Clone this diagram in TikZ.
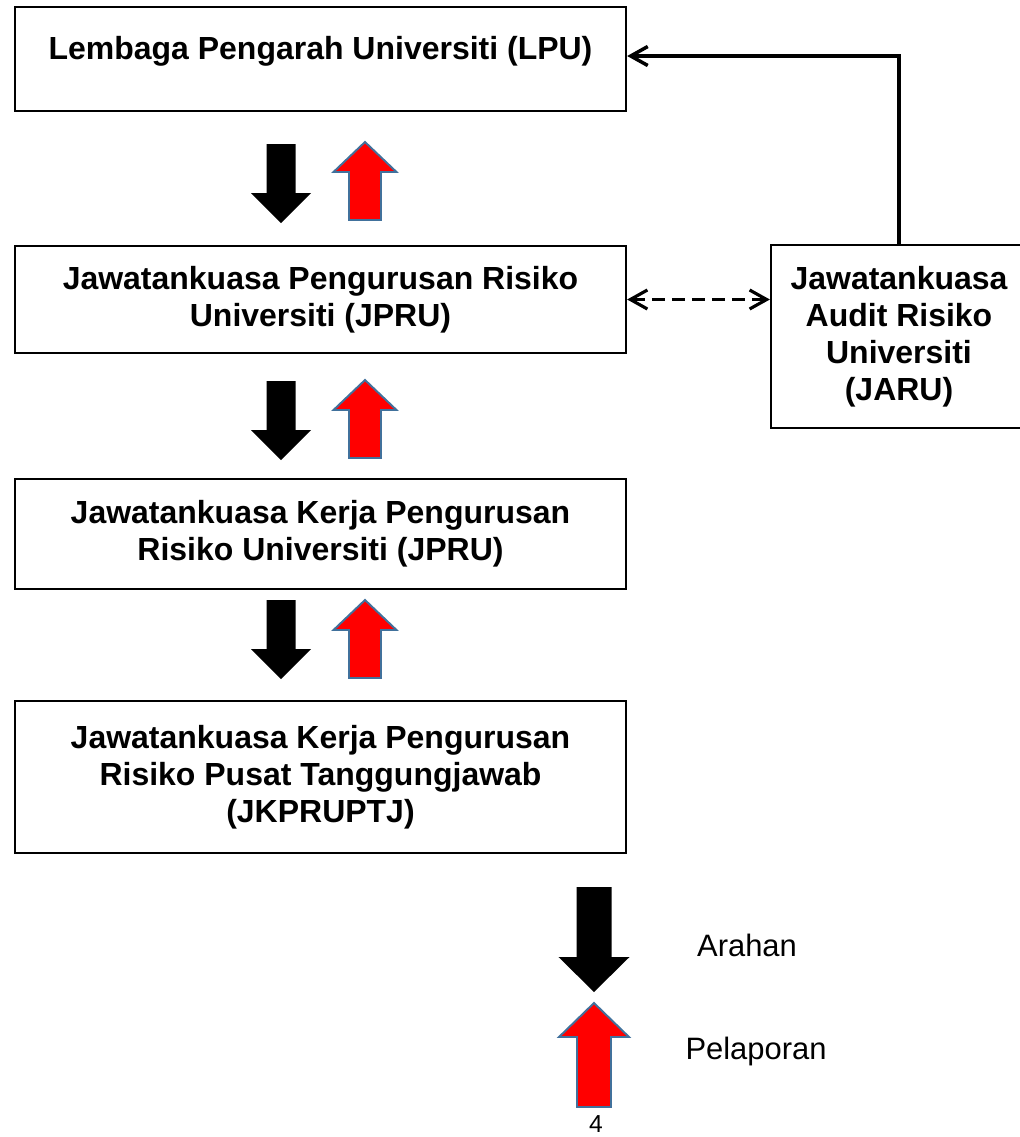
\documentclass[tikz,border=0pt]{standalone}
\usepackage{fontspec}
\setmainfont{Liberation Sans}
\usetikzlibrary{arrows.meta}
\definecolor{steel}{HTML}{41719C}
\tikzset{
	box/.style={draw,line width=1.3pt,inner sep=0pt,align=center,font=\fontsize{18.2}{21}\selectfont\bfseries},
	legend/.style={font=\fontsize{17.6}{21}\selectfont},
	barb/.tip={Straight Barb[length=3.4mm,width=3.8mm]},
	pics/arahan/.style n args={4}{code={
		\fill[black] ({-#1/2},0) -- ({#1/2},0) -- ({#1/2},{#3-#4}) -- ({#2/2},{#3-#4}) -- (0,#3) -- ({-#2/2},{#3-#4}) -- ({-#1/2},{#3-#4}) -- cycle;}},
	pics/lapor/.style n args={4}{code={
		\filldraw[fill=red,draw=steel,line width=1.1pt] (0,0) -- ({#2/2},#4) -- ({#1/2},#4) -- ({#1/2},#3) -- ({-#1/2},#3) -- ({-#1/2},#4) -- ({-#2/2},#4) -- cycle;}}
}
\begin{document}
\begin{tikzpicture}[x=0.2mm,y=-0.2mm]
		\useasboundingbox (0,0) rectangle (1020,1137);
		\node[box,minimum width=122.2mm,minimum height=20.8mm,text height=4mm,text depth=4mm](lpu) at (320.5,59) {Lembaga Pengarah Universiti (LPU)};
		\node[box,minimum width=122.2mm,minimum height=21.4mm](jpru) at (320.5,299.5) {Jawatankuasa Pengurusan Risiko\\Universiti (JPRU)};
		\node[box,minimum width=122.2mm,minimum height=22mm](jkpru) at (320.5,534) {Jawatankuasa Kerja Pengurusan\\Risiko Universiti (JPRU)};
		\node[box,minimum width=122.2mm,minimum height=30.4mm](jkpruptj) at (320.5,777) {Jawatankuasa Kerja Pengurusan\\Risiko Pusat Tanggungjawab\\(JKPRUPTJ)};
		\node[box,minimum width=51.2mm,minimum height=36.6mm](jaru) at (899,336.5) {Jawatankuasa\\Audit Risiko\\Universiti\\(JARU)};
		\draw[-barb,line width=2pt] (jaru.north) |- ([yshift=0.6mm]lpu.east);
		\draw[barb-barb,line width=1.8pt,dash pattern=on 2.6mm off 1.4mm] (jpru.east) -- (jpru.east -| jaru.west);
		\pic at (281,144) {arahan={29}{60}{79}{30}};
		\pic at (365,142) {lapor={32}{63}{78}{30}};
		\pic at (281,381) {arahan={29}{60}{79}{30}};
		\pic at (365,380) {lapor={32}{63}{78}{30}};
		\pic at (281,600) {arahan={29}{60}{79}{30}};
		\pic at (365,600) {lapor={32}{63}{78}{30}};
		\pic at (594,887) {arahan={35}{71}{105}{35}};
		\pic at (594,1003) {lapor={34}{70}{104}{34}};
		\node[legend](arahan) at (747,945) {Arahan};
		\node[legend](pelaporan) at (756,1051) {Pelaporan};
		\node[font=\fontsize{14}{16}\selectfont](hal) at (596,1124) {4};
	\end{tikzpicture}
\end{document}
